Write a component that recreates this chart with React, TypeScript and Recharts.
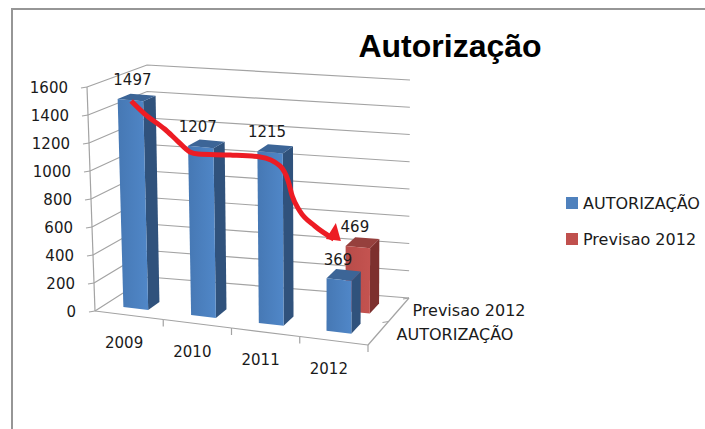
import React from 'react';
import { ComposedChart, Bar, Line, XAxis, YAxis, CartesianGrid, LabelList, Legend } from 'recharts';

const years = ['2009', '2010', '2011', '2012'];
const autorizacao = [1497, 1207, 1215, 369];
const previsao = [null, null, null, 469];
const seriesNames = ['AUTORIZAÇÃO', 'Previsao 2012'];
const yTicks = [0, 200, 400, 600, 800, 1000, 1200, 1400, 1600];

// hand drawn red arrow, in chart units (category position, axis value)
const arrowPos = [0.53, 0.73, 1.02, 1.21, 1.39, 1.51, 1.98, 2.42, 2.71, 2.83, 2.89, 3.0, 3.22, 3.5];
const arrowVal = [1500, 1407, 1300, 1214, 1136, 1121, 1114, 1100, 1036, 929, 821, 714, 607, 514];

const chartData = years.map((year, i) => ({ year, autorizacao: autorizacao[i], previsao: previsao[i] }));
const arrowData = arrowPos.map((pos, i) => ({ pos, val: arrowVal[i] }));

const BLUE = { front: 'url(#blueFront)', side: '#30527c', top: '#3c6597', key: '#4f81bd' };
const RED = { front: 'url(#redFront)', side: '#7d302e', top: '#96403d', key: '#c0504d' };
const GRID = '#a3a3a3';
const FONT = '"DejaVu Sans", sans-serif';

// flat plot area that recharts lays out, then projected on the 3d box
const LEFT = 95;
const RIGHT = 368;
const TOP = 87;
const BOTTOM = 311;

const lerp = (a: number, b: number, t: number) => a + (b - a) * t;

function project(u: number, v: number, w: number) {
  const fbl = [95, 311], fbr = [368, 345], ftl = [87, 87], ftr = [370, 113];
  const bbl = [148, 277], bbr = [409, 298], btl = [147, 65], btr = [410, 80];
  const at = (k: number) => {
    const fb = lerp(fbl[k], fbr[k], u), ft = lerp(ftl[k], ftr[k], u);
    const bb = lerp(bbl[k], bbr[k], u), bt = lerp(btl[k], btr[k], u);
    return lerp(lerp(fb, ft, v), lerp(bb, bt, v), w);
  };
  return { x: at(0), y: at(1) };
}

const toU = (x: number) => (x - LEFT) / (RIGHT - LEFT);
const toV = (y: number) => (BOTTOM - y) / (BOTTOM - TOP);
const pts = (list: { x: number; y: number }[]) => list.map((p) => `${p.x},${p.y}`).join(' ');

const makeBox = (colors: typeof BLUE, w0: number, w1: number) => (props: any) => {
  const { x, y, width, value } = props;
  if (value == null || (Array.isArray(value) && value[1] == null)) return <g />;
  const u0 = toU(x - 3);
  const u1 = toU(x - 3 + width);
  const v = toV(y);
  const fb0 = project(u0, 0, w0), fb1 = project(u1, 0, w0), ft0 = project(u0, v, w0), ft1 = project(u1, v, w0);
  const bb1 = project(u1, 0, w1), bt0 = project(u0, v, w1), bt1 = project(u1, v, w1);
  return (
    <g>
      <polygon points={pts([fb1, bb1, bt1, ft1])} fill={colors.side} />
      <polygon points={pts([ft0, ft1, bt1, bt0])} fill={colors.top} />
      <polygon points={pts([fb0, fb1, ft1, ft0])} fill={colors.front} />
    </g>
  );
};

const nudge: Record<number, number> = { 1497: 2, 369: -1 };

const makeValueLabel = (w: number) => (props: any) => {
  const { value } = props;
  if (value == null) return null;
  const box = props.viewBox ?? props;
  const p = project(toU(box.x - 3 + box.width / 2), toV(Math.min(box.y, box.y + box.height)), w);
  return (
    <text x={p.x + (nudge[value] ?? -3)} y={p.y - 15} textAnchor="middle" fontFamily={FONT} fontSize={15} fill="#1a1a1a">
      {value}
    </text>
  );
};

const WallLine = (props: any) => {
  const v = toV(props.y1);
  const a = project(0, v, 0), b = project(0, v, 1), c = project(1, v, 1);
  return <polyline key={props.index} points={pts([a, b, c])} fill="none" stroke={GRID} strokeWidth={1.2} />;
};

const YTick = (props: any) => {
  const v = toV(props.y);
  const p = project(0, v, 0);
  const next = project(0, Math.min(1, v + 0.125), 0);
  return (
    <g>
      <line x1={p.x - 6} y1={p.y + 1} x2={p.x} y2={p.y} stroke={GRID} strokeWidth={1.2} />
      <line x1={p.x} y1={p.y} x2={next.x} y2={next.y} stroke={GRID} strokeWidth={1.2} />
      <text x={p.x - 19} y={p.y + 6} textAnchor="end" fontFamily={FONT} fontSize={15} fill="#1a1a1a">
        {props.payload.value}
      </text>
    </g>
  );
};

const XTick = (props: any) => {
  const u = toU(props.x);
  const half = 0.125;
  const a = project(u - half, 0, 0), b = project(u + half, 0, 0), mid = project(u, 0, 0);
  return (
    <g>
      <line x1={a.x} y1={a.y} x2={b.x} y2={b.y} stroke={GRID} strokeWidth={1.2} />
      <line x1={b.x} y1={b.y} x2={b.x} y2={b.y + 7} stroke={GRID} strokeWidth={1.2} />
      <text x={mid.x - 5} y={mid.y + 33} textAnchor="middle" fontFamily={FONT} fontSize={15} fill="#1a1a1a">
        {props.payload.value}
      </text>
    </g>
  );
};

const ArrowDot = (props: any) => {
  const { cx, cy, index } = props;
  if (index !== arrowData.length - 1) return <g key={index} />;
  return <polygon key={index} points={`${cx + 7},${cy + 2} ${cx + 2},${cy - 16} ${cx - 8},${cy}`} fill="#ed1c24" />;
};

const LegendBox = () => (
  <div style={{ fontFamily: FONT, fontSize: 16, color: '#1a1a1a', whiteSpace: 'nowrap' }}>
    {seriesNames.map((name, i) => (
      <div key={name} style={{ display: 'flex', alignItems: 'center', height: 36 }}>
        <span style={{ width: 12, height: 12, marginRight: 5, background: i === 0 ? BLUE.key : RED.key }} />
        {name}
      </div>
    ))}
  </div>
);

export default function App() {
  const depthEdge = [project(1, 0, 0), project(1, 0, 1)];
  const depthMid = project(1, 0, 0.5);
  return (
    <div style={{ position: 'absolute', left: 0, top: 0, width: 705, height: 429, background: '#fff', overflow: 'hidden' }}>
      <div style={{ position: 'absolute', left: 11, top: 8, width: 700, height: 430, borderLeft: '2px solid #969696', borderTop: '2px solid #969696' }} />
      <ComposedChart
        width={705}
        height={429}
        data={chartData}
        barSize={25}
        barGap={-25}
        margin={{ top: TOP, right: 705 - RIGHT, bottom: 429 - BOTTOM - 30, left: LEFT - 50 }}
        style={{ position: 'absolute', left: 0, top: 0 }}
      >
        <defs>
          <linearGradient id="blueFront" x1="0" y1="0" x2="1" y2="0">
            <stop offset="0" stopColor="#4678b4" />
            <stop offset="1" stopColor="#5087c8" />
          </linearGradient>
          <linearGradient id="redFront" x1="0" y1="0" x2="1" y2="0">
            <stop offset="0" stopColor="#b84c49" />
            <stop offset="1" stopColor="#c45350" />
          </linearGradient>
        </defs>
        <text x={450} y={57} textAnchor="middle" fontFamily='"Liberation Sans", Arial, sans-serif' fontWeight="bold" fontSize={32} fill="#000">
          Autorização
        </text>
        <CartesianGrid horizontal={WallLine} vertical={false} />
        <XAxis dataKey="year" height={30} axisLine={false} tickLine={false} tick={XTick} interval={0} />
        <XAxis xAxisId="note" dataKey="pos" type="number" domain={[0, 4]} hide />
        <YAxis width={50} domain={[0, 1600]} ticks={yTicks} axisLine={false} tickLine={false} tick={YTick} interval={0} />
        <polyline points={pts([depthEdge[0], depthEdge[1]])} stroke={GRID} strokeWidth={1.2} fill="none" />
        <line x1={depthMid.x} y1={depthMid.y} x2={depthMid.x - 6} y2={depthMid.y + 1} stroke={GRID} strokeWidth={1.2} />
        <line x1={depthEdge[1].x} y1={depthEdge[1].y} x2={depthEdge[1].x - 6} y2={depthEdge[1].y + 1} stroke={GRID} strokeWidth={1.2} />
        <text x={469} y={316} textAnchor="middle" fontFamily={FONT} fontSize={16} fill="#1a1a1a">{seriesNames[1]}</text>
        <text x={455} y={340} textAnchor="middle" fontFamily={FONT} fontSize={16} fill="#1a1a1a">{seriesNames[0]}</text>
        <Bar dataKey="previsao" name={seriesNames[1]} shape={makeBox(RED, 0.62, 0.84)} isAnimationActive={false}>
          <LabelList dataKey="previsao" content={makeValueLabel(0.62)} />
        </Bar>
        <Bar dataKey="autorizacao" name={seriesNames[0]} shape={makeBox(BLUE, 0.18, 0.4)} isAnimationActive={false}>
          <LabelList dataKey="autorizacao" content={makeValueLabel(0.18)} />
        </Bar>
        <Line
          xAxisId="note"
          data={arrowData}
          dataKey="val"
          type="monotone"
          stroke="#ed1c24"
          strokeWidth={5}
          dot={ArrowDot}
          activeDot={false}
          legendType="none"
          isAnimationActive={false}
        />
        <Legend
          layout="horizontal"
          align="center"
          verticalAlign="middle"
          content={LegendBox}
          wrapperStyle={{ left: 566, top: 185, width: 139, height: 72 }}
        />
      </ComposedChart>
    </div>
  );
}
